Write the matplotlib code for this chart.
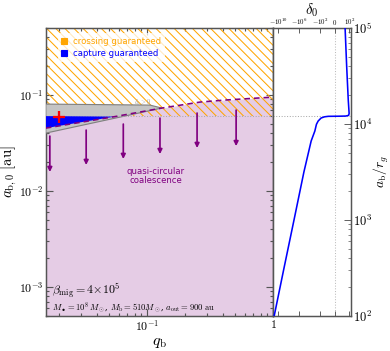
import numpy as np
import matplotlib
matplotlib.use("Agg")
import matplotlib.pyplot as plt
from matplotlib.ticker import FixedLocator, FuncFormatter, LogLocator, NullLocator, NullFormatter
from matplotlib.lines import Line2D

plt.rcParams['mathtext.fontset'] = 'cm'
plt.rcParams['font.family'] = ['DejaVu Serif']
plt.rcParams['axes.edgecolor'] = '#555555'
plt.rcParams['xtick.color'] = '#555555'
plt.rcParams['ytick.color'] = '#555555'
plt.rcParams['xtick.labelcolor'] = 'black'
plt.rcParams['ytick.labelcolor'] = 'black'
plt.rcParams['hatch.linewidth'] = 0.9

# 数据
q_min, q_max = 10 ** -1.8, 1.0
a_min, a_max = 5e-4, 0.5
a_cross = 0.0603           # 穿越保证的下界（虚线点线）
r_g_au = 5e-6              # r_g 以 au 为单位

# 准圆合并区域的上边界（紫色虚线）
q_bound = [0.0158, 0.0557, 0.1315, 0.2636, 0.40, 0.547, 1.0]
a_bound = [0.0453, 0.0597, 0.0733, 0.0846, 0.0885, 0.0908, 0.0953]

# 灰色楔形 (delta_0 > 0)
wedge_q = [0.0158, 0.1056, 0.1315, 0.0158]
wedge_a = [0.0806, 0.0787, 0.0733, 0.0402]

# 蓝色捕获区域
capt_q = [0.0158, 0.0557, 0.0158]
capt_a = [0.0604, 0.0597, 0.0453]

# 红色十字
cross_q, cross_a = 0.020, 0.059

# 向下的箭头
arrow_q = [0.017, 0.033, 0.065, 0.127, 0.25, 0.51]
arrow_top = [0.0374, 0.0432, 0.0499, 0.0576, 0.0650, 0.0698]
arrow_bot = [0.0158, 0.0187, 0.0216, 0.0243, 0.0281, 0.0294]

# 右侧面板: delta_0 随 a_b/r_g 变化
ratio = [100, 316, 1000, 3162, 6650, 8450, 9930, 10740, 11550, 11885,
         12020, 12055, 12100, 12300, 12880, 17780, 39800, 100000]
delta0 = [-6e10, -8e8, -1e7, -1.3e5, -5.4e3, -1.07e3, -530, -250, -68, -15,
          -3, 1, 20, 70, 88, 60, 30, 15]

delta_ticks = [-1e10, -1e6, -1e2, 0, 1e2]
delta_labels = [r'$-10^{10}$', r'$-10^{6}$', r'$-10^{2}$', r'$0$', r'$10^{2}$']

dpi = 82
fig = plt.figure(figsize=(390 / dpi, 351 / dpi), dpi=dpi)
ax = fig.add_axes([46 / 390, 35 / 351, 227 / 390, 288 / 351])
rax = fig.add_axes([273 / 390, 35 / 351, 78 / 390, 288 / 351])

ax.set_xscale('log')
ax.set_yscale('log')
ax.set_xlim(q_min, q_max)
ax.set_ylim(a_min, a_max)

# 准圆合并区（粉紫色）
ax.fill_between(q_bound, a_min / 10, a_bound, color='purple', alpha=0.2, lw=0, zorder=1)
# 穿越保证区（橙色斜线）
ax.fill_between([q_min, q_max], a_cross, a_max * 2, facecolor='none', edgecolor='orange',
                hatch='\\\\\\', lw=0, zorder=2)
# 灰色楔形
ax.fill(wedge_q, wedge_a, facecolor='#c4c4c4', edgecolor='#808080', lw=1, zorder=3)
ax.axhline(a_cross, color='#aaaaaa', ls=':', lw=0.9, zorder=3.5)
# 蓝色捕获区
ax.fill(capt_q, capt_a, facecolor='blue', edgecolor='none', zorder=4)
ax.plot(q_bound, a_bound, color='purple', ls='--', lw=1.4, dashes=(3.5, 2.5), zorder=5)

for q, a0, a1 in zip(arrow_q, arrow_top, arrow_bot):
    ax.annotate('', xy=(q, a1), xytext=(q, a0),
                arrowprops=dict(arrowstyle='-|>', color='purple', lw=1.5,
                                mutation_scale=8, shrinkA=0, shrinkB=0), zorder=5)

ax.plot(cross_q, cross_a, marker='+', color='red', ms=10, mew=2, zorder=6)

ax.text(0.092, 0.082, r'$\delta_0>0$', color='#999999', fontsize=5.5,
        ha='center', va='center', zorder=6)
ax.text(0.117, 0.0145, 'quasi-circular\ncoalescence', color='purple', fontsize=7.5,
        family='DejaVu Sans', ha='center', va='center', linespacing=1.0, zorder=6)

ax.text(0.0176, 0.00092, r'$\beta_{\rm mig}=4\!\times\!10^5$', fontsize=10.5,
        ha='left', va='center', zorder=6)
ax.text(0.0176, 0.00061,
        r'$M_\bullet=10^8\,M_\odot$, $M_{\rm b}=510M_\odot$, $a_{\rm out}=900\;{\rm au}$',
        fontsize=7.5, ha='left', va='center', zorder=6)

handles = [Line2D([], [], ls='none', marker='s', color='orange', ms=4.5),
           Line2D([], [], ls='none', marker='s', color='blue', ms=4.5)]
leg = ax.legend(handles, ['crossing guaranteed', 'capture guaranteed'], loc='upper left',
                bbox_to_anchor=(0.04, 0.99),
                prop={'family': 'DejaVu Sans', 'size': 7.5}, labelcolor='markerfacecolor',
                handlelength=0.8, handletextpad=0.6, borderaxespad=0.3, labelspacing=0.4,
                framealpha=0.75, edgecolor='none', fancybox=False)
leg.set_zorder(7)

ax.xaxis.set_major_locator(FixedLocator([0.1, 1.0]))
ax.xaxis.set_major_formatter(FuncFormatter(lambda v, p: r'$1$' if v >= 1 else r'$10^{-1}$'))
ax.xaxis.set_minor_locator(LogLocator(base=10, subs=np.arange(2, 10)))
ax.xaxis.set_minor_formatter(NullFormatter())
ax.yaxis.set_major_locator(FixedLocator([1e-3, 1e-2, 1e-1]))
ax.yaxis.set_major_formatter(FuncFormatter(lambda v, p: r'$10^{%d}$' % round(np.log10(v))))
ax.yaxis.set_minor_locator(LogLocator(base=10, subs=np.arange(2, 10)))
ax.yaxis.set_minor_formatter(NullFormatter())
ax.tick_params(which='both', direction='in', top=True, right=True, width=1.0, labelsize=10.5)
ax.tick_params(which='major', length=6)
ax.tick_params(which='minor', length=3)
ax.tick_params(axis='y', which='major', pad=2)
ax.tick_params(axis='x', which='major', pad=2)
for s in ax.spines.values():
    s.set_linewidth(1.3)

ax.set_xlabel(r'$q_{\rm b}$', fontsize=14, labelpad=0)
ax.set_ylabel(r'$a_{{\rm b},0}\ [{\rm au}]$', fontsize=13, labelpad=0)

# 右侧面板
rax.set_yscale('log')
rax.set_xscale('symlog', linthresh=1, linscale=0.7)
rax.set_xlim(-1e11, 200)
rax.set_ylim(a_min / r_g_au, a_max / r_g_au)
rax.plot(delta0, ratio, color='blue', lw=1.4, zorder=4)
rax.axvline(0, color='#bbbbbb', ls=':', lw=0.9, zorder=1)
rax.axhline(a_cross / r_g_au, color='#aaaaaa', ls=':', lw=0.9, zorder=1)

rax.xaxis.set_major_locator(FixedLocator(delta_ticks))
rax.set_xticklabels(delta_labels)
rax.xaxis.set_minor_locator(NullLocator())
rax.xaxis.set_label_position('top')
rax.tick_params(axis='x', which='major', direction='in', top=True, bottom=True,
                labeltop=True, labelbottom=False, length=4, labelsize=6, pad=1)
rax.yaxis.tick_right()
rax.yaxis.set_label_position('right')
rax.yaxis.set_major_formatter(FuncFormatter(lambda v, p: r'$10^{%d}$' % round(np.log10(v))))
rax.yaxis.set_minor_formatter(NullFormatter())
rax.tick_params(axis='y', which='both', direction='in', left=False, right=True,
                labelsize=11, pad=2)
rax.tick_params(axis='y', which='major', length=6)
rax.tick_params(axis='y', which='minor', length=3)
for s in rax.spines.values():
    s.set_linewidth(1.3)
rax.set_xlabel(r'$\delta_0$', fontsize=13, labelpad=2)
rax.set_ylabel(r'$a_{\rm b}/r_g$', fontsize=12)
rax.yaxis.set_label_coords(1.27, 0.5)

fig.savefig('out.png', dpi=dpi)
